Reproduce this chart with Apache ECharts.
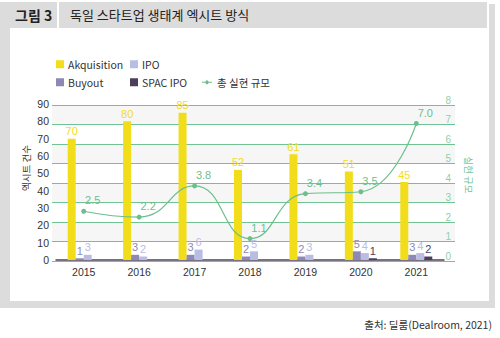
<!DOCTYPE html>
<html><head><meta charset="utf-8">
<script src="https://cdn.jsdelivr.net/npm/echarts@6/dist/echarts.min.js"></script>
<style>html,body{margin:0;padding:0;background:#fff}#c{width:500px;height:338px}</style>
</head><body><div id="c"></div>
<script>
const years = ['2015','2016','2017','2018','2019','2020','2021'];
const akquisition = [70, 80, 85, 52, 61, 51, 45];
const buyout = [1, 3, 3, 2, 2, 5, 3];
const ipo = [3, 2, 6, 5, 3, 4, 4];
const spacIpo = [0, 0, 0, 0, 0, 1, 2];
const totalSize = [2.5, 2.2, 3.8, 1.1, 3.4, 3.5, 7.0];
const leftTicks = [0, 90, 10];
const rightTicks = [0, 8, 1];

const FONT = '"Liberation Sans", "Noto Sans CJK KR", sans-serif';
const KFONT = '"Noto Sans CJK KR", "Liberation Sans", sans-serif';
const C_AK = '#f2dd1a', C_IPO = '#b9bde3', C_BO = '#8d88b5', C_SPAC = '#4d3f5c', C_LINE = '#6cbf8c';
const GRAY = '#dcdcdc';

const chart = echarts.init(document.getElementById('c'), null, {renderer: 'svg'});
const hideZero = p => p.value === 0 ? '' : String(p.value);
function barSeries(name, data, color) {
  return {
    name, type: 'bar', xAxisIndex: 1, yAxisIndex: 1, data, barWidth: 8, barGap: '0%',
    itemStyle: {color},
    label: {show: true, position: 'top', distance: 2, color, fontSize: 11, fontFamily: FONT, formatter: hideZero}
  };
}
function legendItem(name, left, top, icon, w) {
  return {
    data: [name], left, top, itemWidth: w || 8, itemHeight: 8, itemGap: 0, icon,
    textStyle: {fontSize: 10.5, color: '#333', fontFamily: KFONT, padding: [0, 0, 0, -1]}
  };
}
chart.setOption({
  animation: false,
  legend: [
    legendItem('Akquisition', 51, 54, 'rect'),
    legendItem('IPO', 125, 54, 'rect'),
    legendItem('Buyout', 51, 72, 'rect'),
    legendItem('SPAC IPO', 125, 72, 'rect'),
    {data: [{name: '총 실현 규모', icon: 'path://M0,4.5 L3.5,4.5 A1.5,1.5 0 1 1 6.5,4.5 L10,4.5 L10,5.5 L6.5,5.5 A1.5,1.5 0 1 1 3.5,5.5 L0,5.5 Z'}],
     left: 197, top: 72, itemWidth: 10, itemHeight: 9, itemGap: 0,
     textStyle: {fontSize: 10.5, color: '#333', fontFamily: KFONT}}
  ],
  grid: [
    {left: 52, right: 45, top: 105, height: 156},
    {left: 56, right: 56, top: 104, bottom: 78}
  ],
  xAxis: [
    {type: 'value', gridIndex: 0, show: false, min: 0, max: 1},
    {type: 'category', gridIndex: 1, data: years,
     axisLine: {lineStyle: {color: '#4b4358', width: 1.5}}, axisTick: {show: false},
     axisLabel: {color: '#333', fontSize: 10.5, fontFamily: FONT, margin: 7}}
  ],
  yAxis: [
    {type: 'value', gridIndex: 0, position: 'right', min: rightTicks[0], max: rightTicks[1], interval: rightTicks[2],
     axisLine: {show: false}, axisTick: {show: false},
     axisLabel: {inside: true, verticalAlign: 'bottom', margin: 4, color: '#8fd0a8', fontSize: 10, fontFamily: FONT},
     splitLine: {lineStyle: {color: '#72c394', width: 1}},
     splitArea: {show: true, areaStyle: {color: ['#ffffff', '#f6f6f6']}}},
    {type: 'value', gridIndex: 1, position: 'left', min: leftTicks[0], max: leftTicks[1], interval: leftTicks[2],
     axisLine: {show: false}, axisTick: {show: false}, splitLine: {show: false},
     axisLabel: {color: '#333', fontSize: 10.5, fontFamily: FONT, margin: 7}},
    {type: 'value', gridIndex: 1, position: 'right', min: rightTicks[0], max: rightTicks[1], interval: rightTicks[2], show: false}
  ],
  graphic: [
    {type: 'rect', shape: {x: 0, y: 2, width: 10, height: 306}, style: {fill: GRAY}, silent: true},
    {type: 'rect', shape: {x: 0, y: 2, width: 57, height: 26}, style: {fill: GRAY}, silent: true},
    {type: 'rect', shape: {x: 59, y: 2, width: 428, height: 26}, style: {fill: GRAY}, silent: true},
    {type: 'rect', shape: {x: 489, y: 4, width: 6, height: 304}, style: {fill: GRAY}, silent: true},
    {type: 'rect', shape: {x: 0, y: 301, width: 495, height: 7}, style: {fill: GRAY}, silent: true},
    {type: 'text', left: 15, top: 8, style: {text: '그림 3', fontSize: 14, fontWeight: 'bold', fill: '#222', fontFamily: KFONT}},
    {type: 'text', left: 70, top: 8, style: {text: '독일 스타트업 생태계 엑시트 방식', fontSize: 13, fill: '#222', fontFamily: KFONT}},
    {type: 'text', x: 26, y: 168, rotation: Math.PI / 2, style: {text: '엑시트 건수', fontSize: 9.5, fill: '#333', fontFamily: KFONT, align: 'center', verticalAlign: 'middle'}},
    {type: 'text', x: 469, y: 175, rotation: -Math.PI / 2, style: {text: '실현 규모', fontSize: 9.5, fill: '#72c394', fontFamily: KFONT, align: 'center', verticalAlign: 'middle'}},
    {type: 'text', right: 8, top: 319, style: {text: '출처: 딜룸(Dealroom, 2021)', fontSize: 10.5, fill: '#333', fontFamily: KFONT}}
  ],
  series: [
    barSeries('Akquisition', akquisition, C_AK),
    barSeries('Buyout', buyout, C_BO),
    barSeries('IPO', ipo, C_IPO),
    barSeries('SPAC IPO', spacIpo, C_SPAC),
    {name: '총 실현 규모', type: 'line', xAxisIndex: 1, yAxisIndex: 2, data: totalSize, smooth: true,
     symbol: 'circle', symbolSize: 5, lineStyle: {color: C_LINE, width: 1.2}, itemStyle: {color: C_LINE},
     label: {show: true, position: 'top', offset: [9, 2], color: C_LINE, fontSize: 11, fontFamily: FONT,
             formatter: p => p.value.toFixed(1)}, z: 5}
  ]
});
</script></body></html>
